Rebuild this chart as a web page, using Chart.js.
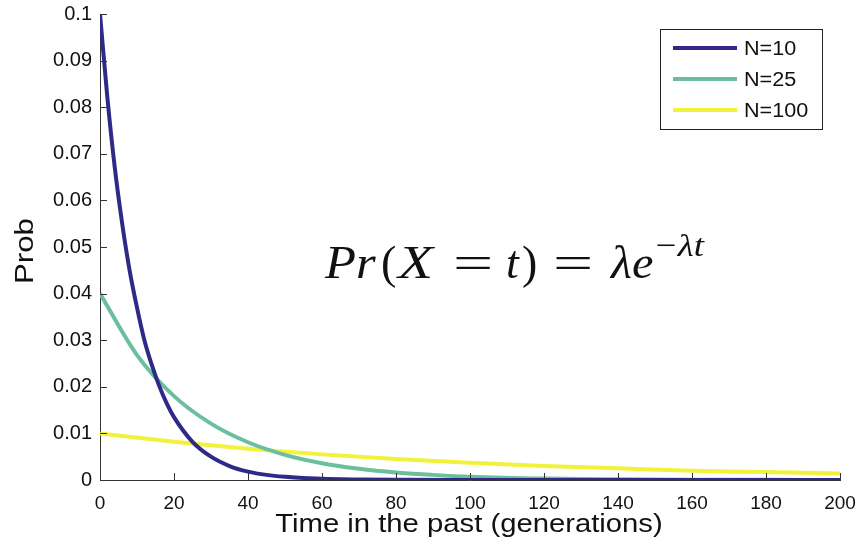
<!DOCTYPE html>
<html>
<head>
<meta charset="utf-8">
<script src="https://cdn.jsdelivr.net/npm/chart.js@4"></script>
<style>
  html, body { margin: 0; padding: 0; background: #fff; }
  #wrap { width: 861px; height: 544px; }
</style>
</head>
<body>
<div id="wrap"><canvas id="chart" width="861" height="544"></canvas></div>
<script>
// values
const tN10 = [0, 2, 4, 6, 8, 10, 12, 14, 16, 18, 20, 25, 30, 35, 40, 45, 50, 60, 70, 80, 100, 120, 160, 200];
const pN10 = [0.1, 0.082, 0.067, 0.055, 0.045, 0.037, 0.030, 0.0247, 0.0202, 0.0165, 0.0135, 0.0082, 0.005, 0.003, 0.0018, 0.0011, 0.0007, 0.00025, 0.0001, 0.00003, 0, 0, 0, 0];

const tN25 = [0, 10, 20, 30, 40, 50, 60, 70, 80, 90, 100, 120, 140, 160, 180, 200];
const pN25 = [0.04, 0.0268, 0.018, 0.0121, 0.0081, 0.0054, 0.0036, 0.0024, 0.0016, 0.0011, 0.0007, 0.0003, 0.00015, 0.00007, 0.00003, 0.00001];

const tN100 = [0, 20, 40, 60, 80, 100, 120, 140, 160, 180, 200];
const pN100 = [0.01, 0.0082, 0.0067, 0.0055, 0.0045, 0.0037, 0.003, 0.0025, 0.002, 0.0017, 0.0014];

const seriesNames = ["N=10", "N=25", "N=100"];
const seriesColors = ["#2f2a88", "#6bbf9e", "#f2f23a"];

const xTicks = [0, 20, 40, 60, 80, 100, 120, 140, 160, 180, 200];
const yTicks = [0, 0.01, 0.02, 0.03, 0.04, 0.05, 0.06, 0.07, 0.08, 0.09, 0.1];
const yTickLabels = ["0", "0.01", "0.02", "0.03", "0.04", "0.05", "0.06", "0.07", "0.08", "0.09", "0.1"];

const xTitle = "Time in the past (generations)";
const yTitle = "Prob";

function pts(ts, ps) {
    return ts.map((t, i) => ({ x: t, y: ps[i] }));
}

const FONT = "'Liberation Sans', Arial, sans-serif";
const SERIF = "'Liberation Serif', 'Times New Roman', serif";

// inward ticks, matlab style
const innerTicks = {
    id: "innerTicks",
    afterDraw(chart) {
        const c = chart.ctx;
        const a = chart.chartArea;
        const xs = chart.scales.x, ys = chart.scales.y;
        c.save();
        c.strokeStyle = "#333";
        c.lineWidth = 1;
        c.beginPath();
        xTicks.forEach(v => {
            const px = Math.round(xs.getPixelForValue(v)) + 0.5;
            c.moveTo(px, a.bottom);
            c.lineTo(px, a.bottom - 7);
        });
        yTicks.forEach(v => {
            const py = Math.round(ys.getPixelForValue(v)) + 0.5;
            c.moveTo(a.left, py);
            c.lineTo(a.left + 7, py);
        });
        c.stroke();
        c.restore();
    }
};

// axis titles, a bit wider than the plain font
const axisTitles = {
    id: "axisTitles",
    afterDraw(chart) {
        const c = chart.ctx;
        c.save();
        c.fillStyle = "#111";
        c.font = "25px " + FONT;
        c.textAlign = "center";
        c.textBaseline = "alphabetic";
        c.save();
        c.translate(469, 532);
        c.scale(1.17, 1);
        c.fillText(xTitle, 0, 0);
        c.restore();
        c.save();
        c.translate(33, 251);
        c.rotate(-Math.PI / 2);
        c.scale(1.25, 1);
        c.fillText(yTitle, 0, 0);
        c.restore();
        c.restore();
    }
};

// legend box in the top right
const boxLegend = {
    id: "boxLegend",
    afterDraw(chart) {
        const c = chart.ctx;
        c.save();
        c.fillStyle = "#fff";
        c.fillRect(660, 29, 162, 100);
        c.strokeStyle = "#222";
        c.lineWidth = 1;
        c.strokeRect(660.5, 29.5, 162, 100);
        c.font = "20px " + FONT;
        c.textBaseline = "middle";
        seriesNames.forEach((n, i) => {
            const y = 48 + i * 31;
            c.strokeStyle = seriesColors[i];
            c.lineWidth = 4;
            c.beginPath();
            c.moveTo(673, y);
            c.lineTo(737, y);
            c.stroke();
            c.fillStyle = "#111";
            c.save();
            c.translate(744, y + 1);
            c.scale(1.08, 1);
            c.fillText(n, 0, 0);
            c.restore();
        });
        c.restore();
    }
};

// the formula text in the middle
const formula = {
    id: "formula",
    afterDraw(chart) {
        const c = chart.ctx;
        c.save();
        c.fillStyle = "#111";
        c.textBaseline = "alphabetic";
        const it = "italic 46px " + SERIF;
        const up = "46px " + SERIF;
        const sup = "italic 32px " + SERIF;
        // text, font, left x, baseline, horizontal stretch
        const parts = [
            ["Pr", it, 325, 278, 1.1],
            ["(", up, 381, 278, 1.0],
            ["X", it, 398, 278, 1.25],
            ["=", up, 453, 278, 1.55],
            ["t", it, 506, 278, 1.0],
            [")", up, 522, 278, 1.0],
            ["=", up, 553, 278, 1.55],
            ["λe", it, 611, 278, 1.05],
            ["−λt", sup, 653, 256, 1.15]
        ];
        parts.forEach(p => {
            c.save();
            c.font = p[1];
            c.translate(p[2], p[3]);
            c.scale(p[4], 1);
            c.fillText(p[0], 0, 0);
            c.restore();
        });
        c.restore();
    }
};

const ctx = document.getElementById("chart").getContext("2d");

new Chart(ctx, {
    type: "line",
    data: {
        datasets: [
            { label: seriesNames[0], data: pts(tN10, pN10), borderColor: seriesColors[0] },
            { label: seriesNames[1], data: pts(tN25, pN25), borderColor: seriesColors[1] },
            { label: seriesNames[2], data: pts(tN100, pN100), borderColor: seriesColors[2] }
        ]
    },
    options: {
        responsive: false,
        animation: false,
        events: [],
        layout: { padding: { left: 0, right: 21, top: 14, bottom: 0 } },
        elements: {
            point: { radius: 0 },
            line: { borderWidth: 4, cubicInterpolationMode: "monotone", fill: false }
        },
        plugins: {
            legend: { display: false },
            tooltip: { enabled: false }
        },
        scales: {
            x: {
                type: "linear",
                min: 0,
                max: 200,
                afterBuildTicks: s => { s.ticks = xTicks.map(v => ({ value: v })); },
                afterFit: s => { s.height = 64; s.paddingLeft = 0; s.paddingRight = 0; },
                grid: { display: false, drawTicks: false },
                border: { display: true, color: "#333", width: 1 },
                ticks: { color: "#111", font: { family: FONT, size: 19 }, padding: 12 }
            },
            y: {
                type: "linear",
                min: 0,
                max: 0.1,
                afterBuildTicks: s => { s.ticks = yTicks.map(v => ({ value: v })); },
                afterFit: s => { s.width = 100; s.paddingTop = 0; s.paddingBottom = 0; },
                grid: { display: false, drawTicks: false },
                border: { display: true, color: "#333", width: 1 },
                ticks: {
                    color: "#111",
                    font: { family: FONT, size: 20 },
                    padding: 8,
                    callback: (v, i) => yTickLabels[i]
                }
            }
        }
    },
    plugins: [innerTicks, axisTitles, boxLegend, formula]
});
</script>
</body>
</html>
